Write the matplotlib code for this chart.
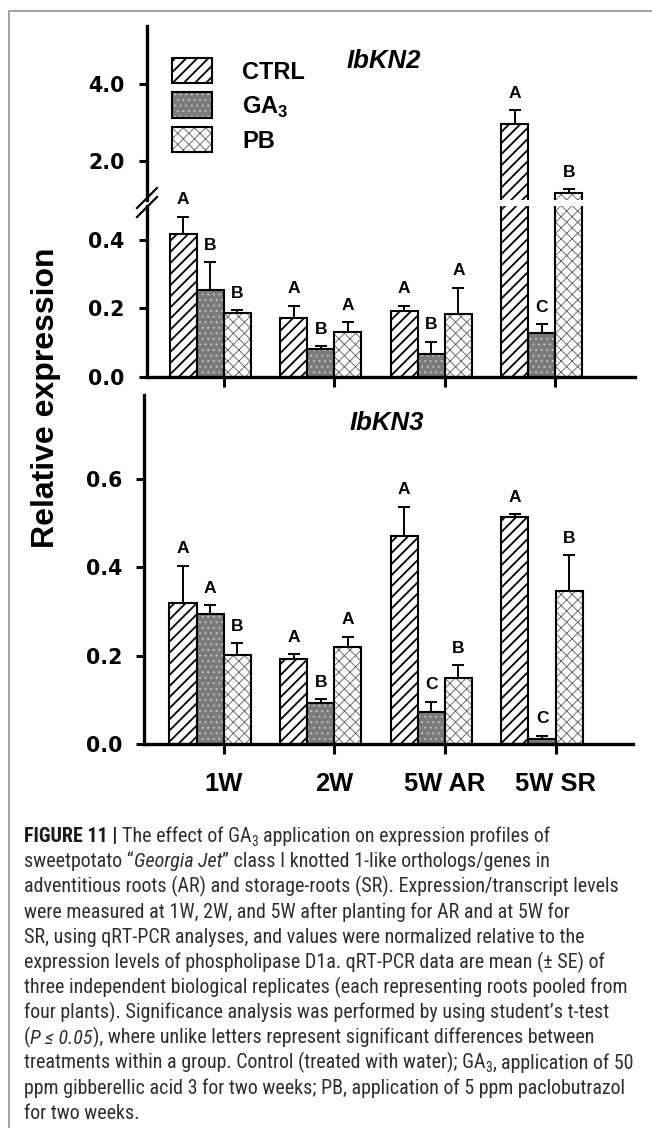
import numpy as np
import matplotlib
matplotlib.use("Agg")
import matplotlib.pyplot as plt
from matplotlib import font_manager
from matplotlib.lines import Line2D
from matplotlib.patches import Rectangle

# ---------------- data ----------------
groups = ["1W", "2W", "5W AR", "5W SR"]
treatments = ["CTRL", "GA3", "PB"]

# IbKN2
kn2_ctrl = [0.419, 0.171, 0.192, 2.97]
kn2_ctrl_se = [0.050, 0.037, 0.016, 0.35]
kn2_ga3 = [0.254, 0.080, 0.067, 0.127]
kn2_ga3_se = [0.081, 0.009, 0.036, 0.027]
kn2_pb = [0.188, 0.131, 0.183, 1.18]
kn2_pb_se = [0.006, 0.028, 0.077, 0.10]
kn2_ctrl_sig = ["A", "A", "A", "A"]
kn2_ga3_sig = ["B", "B", "B", "C"]
kn2_pb_sig = ["B", "A", "A", "B"]

# IbKN3
kn3_ctrl = [0.320, 0.192, 0.470, 0.514]
kn3_ctrl_se = [0.084, 0.012, 0.067, 0.006]
kn3_ga3 = [0.294, 0.093, 0.072, 0.011]
kn3_ga3_se = [0.021, 0.009, 0.024, 0.008]
kn3_pb = [0.201, 0.221, 0.151, 0.347]
kn3_pb_se = [0.027, 0.022, 0.028, 0.081]
kn3_ctrl_sig = ["A", "A", "A", "A"]
kn3_ga3_sig = ["A", "B", "C", "C"]
kn3_pb_sig = ["B", "A", "B", "B"]

kn2_upper_ticks = [2.0, 4.0]
kn2_lower_ticks = [0.0, 0.2, 0.4]
kn3_ticks = [0.0, 0.2, 0.4, 0.6]

# ---------------- styling ----------------
W, H, DPI = 652, 1128, 100
plt.rcParams["font.family"] = ["Liberation Sans", "DejaVu Sans"]
plt.rcParams["mathtext.fontset"] = "custom"
plt.rcParams["mathtext.rm"] = "Liberation Sans:bold"
plt.rcParams["mathtext.bf"] = "Liberation Sans:bold"
plt.rcParams["hatch.linewidth"] = 1.2

STYLES = {
    "CTRL": dict(face="white", hatch="///", hcolor="black", hlw=1.3),
    "GA3": dict(face="#7b7b7b", hatch="...", hcolor="#c9c9c9", hlw=0.6),
    "PB": dict(face="white", hatch="xxx", hcolor="#5a5a5a", hlw=0.6),
}
EDGE_LW = 1.5
SPINE_LW = 2.4
BAR_W = 0.245
offsets = np.array([-1.5, -0.5, 0.5]) * BAR_W
pos = np.arange(len(groups))


def pick_font(cands):
    for c in cands:
        try:
            font_manager.findfont(font_manager.FontProperties(family=c),
                                  fallback_to_default=False)
            return c
        except Exception:
            pass
    return "DejaVu Sans"


CAP_FONT = pick_font(["Liberation Sans Narrow", "Roboto Condensed", "Liberation Sans"])

fig = plt.figure(figsize=(W / DPI, H / DPI), dpi=DPI)


def fx(px):
    return px / W


def fy(py):
    return 1 - py / H


def add_axes_px(left, top, right, bottom):
    return fig.add_axes([fx(left), fy(bottom), (right - left) / W, (bottom - top) / H])


def set_hatch_lw(patch, lw):
    if hasattr(patch, "set_hatch_linewidth"):
        patch.set_hatch_linewidth(lw)


def draw_series(ax, xs, vals, se, sig, name):
    st = STYLES[name]
    with plt.rc_context({"hatch.linewidth": st["hlw"]}):
        fill = ax.bar(xs, vals, BAR_W, color=st["face"], edgecolor=st["hcolor"],
                      hatch=st["hatch"], linewidth=0, zorder=2)
    for p in fill:
        set_hatch_lw(p, st["hlw"])
    ax.bar(xs, vals, BAR_W, fill=False, edgecolor="black", linewidth=EDGE_LW, zorder=3)
    ax.errorbar(xs, vals, yerr=[np.zeros(len(vals)), se], fmt="none", ecolor="black",
                elinewidth=1.4, capsize=4, capthick=1.4, zorder=4)
    for xi, v, e, s in zip(xs, vals, se, sig):
        ax.annotate(s, xy=(xi, v + e), xytext=(0, 9), textcoords="offset points",
                    ha="center", va="baseline", fontsize=12.5, fontweight="bold")


def style_y(ax, ticks):
    ax.set_yticks(ticks, labels=[f"{t:.1f}" for t in ticks], fontsize=14.8,
                  fontweight="bold", fontfamily="DejaVu Sans")
    ax.tick_params(axis="y", direction="out", length=5.8, width=2.2, pad=10)
    ax.spines["left"].set_linewidth(SPINE_LW)
    for s in ("top", "right"):
        ax.spines[s].set_visible(False)
    ax.set_facecolor("none")


def style_x(ax, labels):
    ax.spines["bottom"].set_linewidth(SPINE_LW)
    if labels is None:
        ax.set_xticks(pos, labels=[""] * len(pos))
    else:
        ax.set_xticks(pos, labels=labels, fontsize=18.4, fontweight="bold")
    ax.tick_params(axis="x", direction="out", length=7, width=2.2, pad=13)


# ---------------- IbKN2 (broken axis) ----------------
ax_hi = add_axes_px(146.7, 26, 635.4, 200)
ax_lo = add_axes_px(146.7, 206, 635.4, 376.7)
kn2 = [(kn2_ctrl, kn2_ctrl_se, kn2_ctrl_sig, "CTRL"),
       (kn2_ga3, kn2_ga3_se, kn2_ga3_sig, "GA3"),
       (kn2_pb, kn2_pb_se, kn2_pb_sig, "PB")]
for ax in (ax_hi, ax_lo):
    for k, (vals, se, sig, name) in enumerate(kn2):
        draw_series(ax, pos + offsets[k], vals, se, sig, name)
    ax.set_xlim(-0.697, 3.724)

ax_hi.set_ylim(1.0, 5.5)
ax_lo.set_ylim(0.0, 0.5)
style_y(ax_hi, kn2_upper_ticks)
style_y(ax_lo, kn2_lower_ticks)
ax_hi.spines["bottom"].set_visible(False)
ax_hi.tick_params(axis="x", bottom=False, labelbottom=False)
style_x(ax_lo, None)

# break marks on the value axis
for yc in (198, 207):
    fig.add_artist(Line2D([fx(137), fx(157)], [fy(yc + 10), fy(yc - 10)],
                          color="black", lw=1.6, transform=fig.transFigure))

# ---------------- IbKN3 ----------------
ax_b = add_axes_px(144, 395, 633, 744.3)
kn3 = [(kn3_ctrl, kn3_ctrl_se, kn3_ctrl_sig, "CTRL"),
       (kn3_ga3, kn3_ga3_se, kn3_ga3_sig, "GA3"),
       (kn3_pb, kn3_pb_se, kn3_pb_sig, "PB")]
for k, (vals, se, sig, name) in enumerate(kn3):
    draw_series(ax_b, pos + offsets[k], vals, se, sig, name)
ax_b.set_xlim(-0.72, 3.70)
ax_b.set_ylim(0.0, 0.79)
style_y(ax_b, kn3_ticks)
style_x(ax_b, groups)

# ---------------- titles, axis label, legend ----------------
fig.text(fx(384), fy(68), "IbKN2", ha="center", va="baseline", fontsize=18.5,
         fontweight="bold", fontstyle="italic")
fig.text(fx(387), fy(430), "IbKN3", ha="center", va="baseline", fontsize=18.5,
         fontweight="bold", fontstyle="italic")
fig.text(fx(46), fy(398), "Relative expression", rotation=90, ha="center",
         va="center", fontsize=23, fontweight="bold")

legend_labels = {"CTRL": "CTRL", "GA3": "GA$_3$", "PB": "PB"}
for i, name in enumerate(treatments):
    st = STYLES[name]
    top = 58 + i * 34.5
    with plt.rc_context({"hatch.linewidth": st["hlw"]}):
        sw = Rectangle((fx(172), fy(top + 25)), 40 / W, 25 / H, transform=fig.transFigure,
                       facecolor=st["face"], edgecolor=st["hcolor"], hatch=st["hatch"],
                       linewidth=0)
    set_hatch_lw(sw, st["hlw"])
    fig.add_artist(sw)
    fig.add_artist(Rectangle((fx(172), fy(top + 25)), 40 / W, 25 / H,
                             transform=fig.transFigure, fill=False,
                             edgecolor="black", linewidth=EDGE_LW))
    fig.text(fx(242), fy(top + 12.5 + 8.5), legend_labels[name], ha="left",
             va="baseline", fontsize=17, fontweight="bold")

# ---------------- frame ----------------
fig.add_artist(Line2D([fx(9), fx(9), fx(652)], [fy(1128), fy(11), fy(11)],
                      color="#a3a3a3", lw=1.4, transform=fig.transFigure))

# ---------------- caption ----------------
CAP_SIZE = 14.4
CAP_COLOR = "#2e2e2e"
cap_styles = {
    "r": dict(family=[CAP_FONT, "DejaVu Sans"], fontsize=CAP_SIZE, color=CAP_COLOR),
    "b": dict(family=[CAP_FONT, "DejaVu Sans"], fontsize=CAP_SIZE, color="#1a1a1a",
              fontweight="bold"),
    "i": dict(family=[CAP_FONT, "DejaVu Sans"], fontsize=CAP_SIZE, color=CAP_COLOR,
              fontstyle="italic"),
    "sub": dict(family=[CAP_FONT, "DejaVu Sans"], fontsize=CAP_SIZE * 0.68,
                color=CAP_COLOR),
}
caption_lines = [
    [("FIGURE 11 |", "b"), (" ", "sp"), ("The effect of GA", "r"), ("3", "sub"), (" ", "sp"),
     ("application on expression profiles of", "r")],
    [("sweetpotato \u201c", "r"), ("Georgia Jet", "i"),
     ("\u201d class I knotted 1-like orthologs/genes in", "r")],
    [("adventitious roots (AR) and storage-roots (SR). Expression/transcript levels", "r")],
    [("were measured at 1W, 2W, and 5W after planting for AR and at 5W for", "r")],
    [("SR, using qRT-PCR analyses, and values were normalized relative to the", "r")],
    [("expression levels of phospholipase D1a. qRT-PCR data are mean (\u00b1 SE) of", "r")],
    [("three independent biological replicates (each representing roots pooled from", "r")],
    [("four plants). Significance analysis was performed by using student\u2019s t-test", "r")],
    [("(", "r"), ("P \u2264 0.05", "i"),
     ("), where unlike letters represent significant differences between", "r")],
    [("treatments within a group. Control (treated with water); GA", "r"), ("3", "sub"),
     (",", "r"), (" ", "sp"), ("application of 50", "r")],
    [("ppm gibberellic acid 3 for two weeks; PB, application of 5 ppm paclobutrazol", "r")],
    [("for two weeks.", "r")],
]

renderer = fig.canvas.get_renderer()
probe_a = fig.text(0, 0, "n n", **cap_styles["r"])
probe_b = fig.text(0, 0, "nn", **cap_styles["r"])
space_w = (probe_a.get_window_extent(renderer).width
           - probe_b.get_window_extent(renderer).width)
probe_a.remove()
probe_b.remove()

base0, line_gap, x0 = 842, 25.2, 24
for li, segs in enumerate(caption_lines):
    xp = x0
    yb = base0 + li * line_gap
    for txt, kind in segs:
        if kind == "sp":
            xp += space_w
            continue
        dy = 3.5 if kind == "sub" else 0
        t = fig.text(fx(xp), fy(yb + dy), txt, ha="left", va="baseline", **cap_styles[kind])
        xp += t.get_window_extent(renderer).width

fig.savefig("out.png", dpi=DPI, facecolor="white")
